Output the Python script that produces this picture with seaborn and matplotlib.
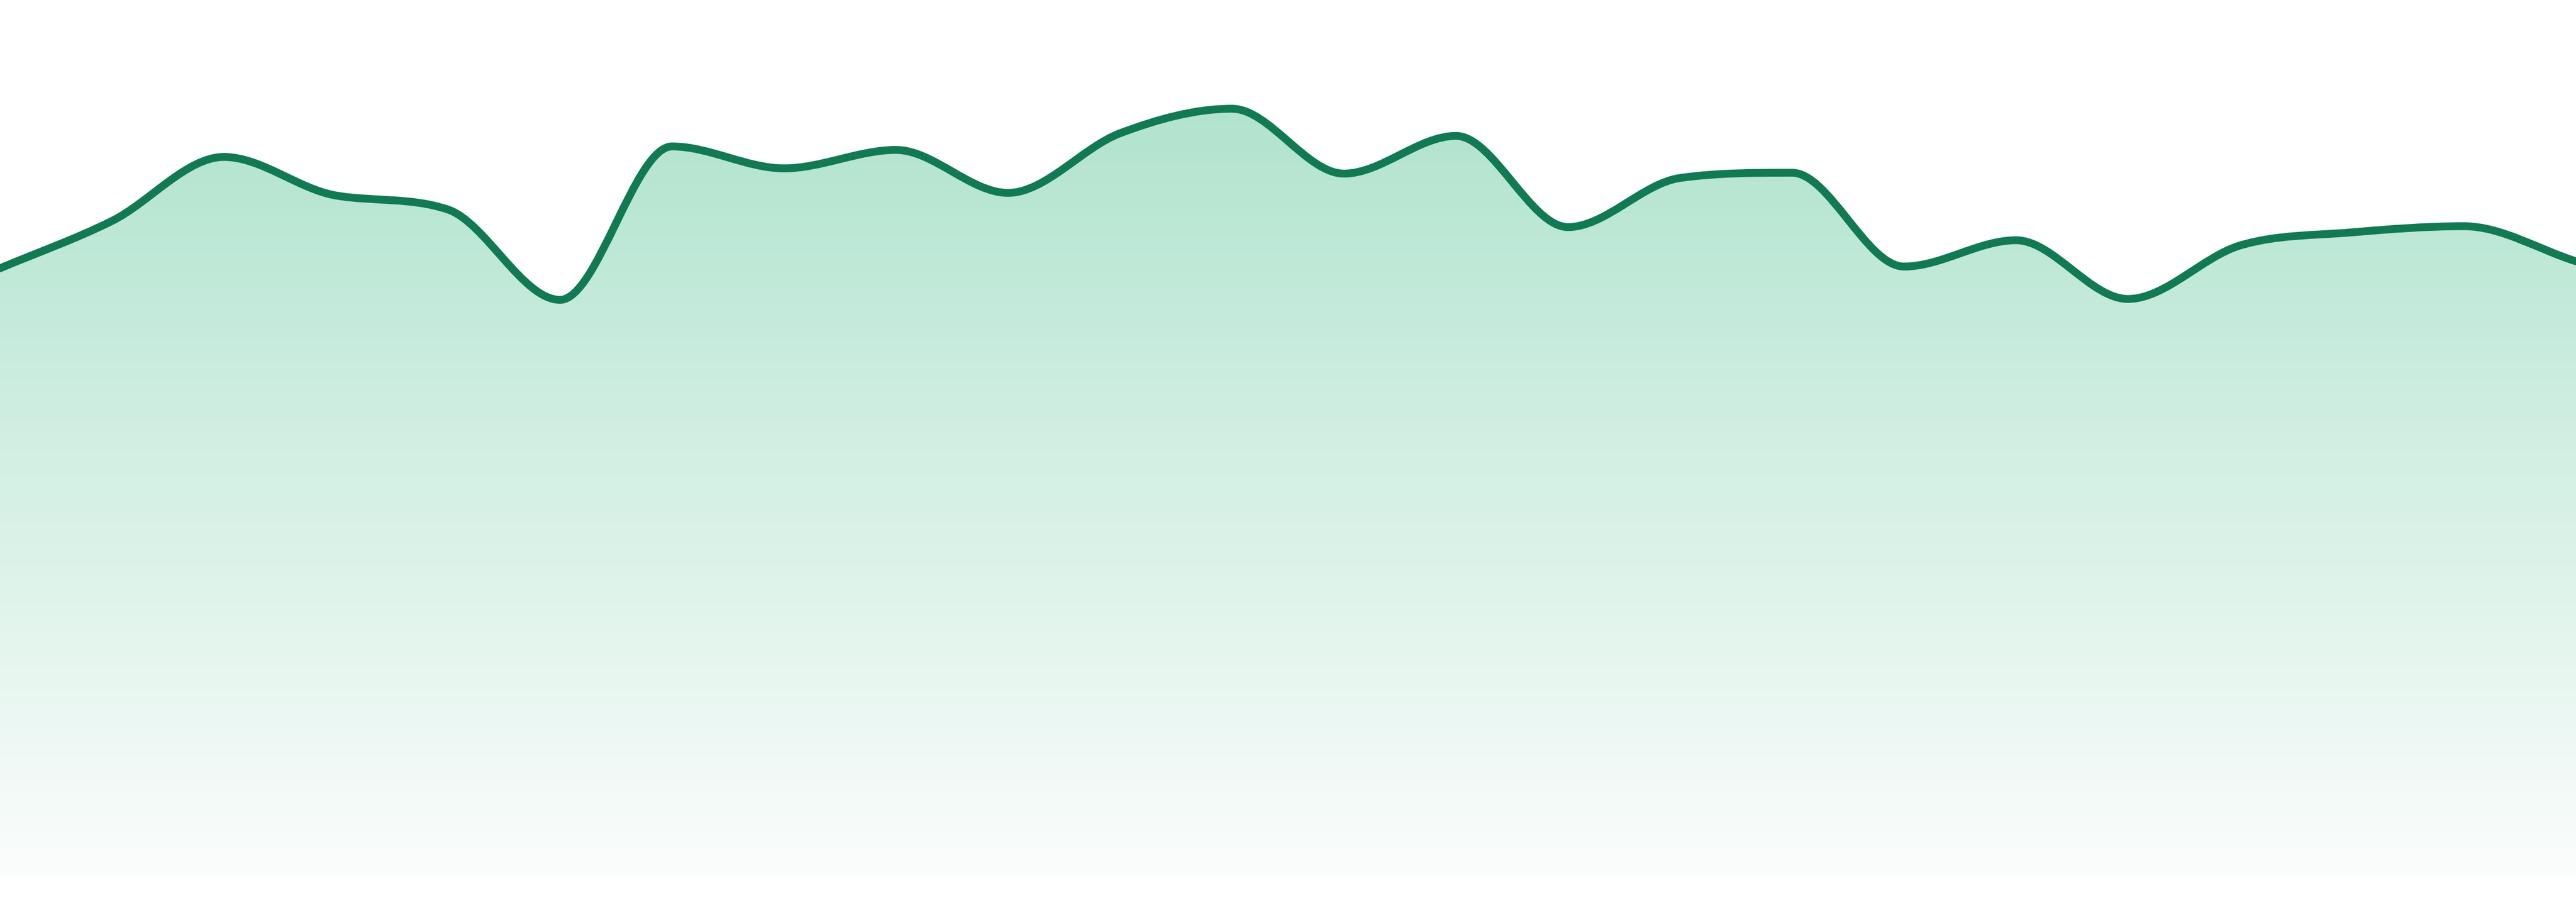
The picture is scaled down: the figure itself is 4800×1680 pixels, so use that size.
import numpy as np
import matplotlib
matplotlib.use("Agg")
import matplotlib.pyplot as plt
from matplotlib.path import Path
from matplotlib.patches import PathPatch
import seaborn as sns

# values (24 evenly spaced points, axis 0..100)
points = list(range(24))
values = [69.4, 74.8, 82.1, 77.7, 76.1, 65.8, 83.3, 80.8, 82.9, 78.0, 84.8, 87.6,
          80.2, 84.5, 74.1, 79.7, 80.3, 69.6, 72.6, 65.9, 72.0, 73.5, 74.2, 70.2]

line_color = "#117a52"
fill_top = "#a6e0c8"
fill_bottom = "#fbfdfc"

sns.set_theme(style="white")

x = np.array(points, dtype=float)
y = np.array(values, dtype=float)


# monotone cubic tangents (same idea as chart.js "monotone" mode)
def monotone_tangents(x, y):
    n = len(x)
    d = np.diff(y) / np.diff(x)
    m = np.zeros(n)
    m[0] = d[0]
    m[-1] = d[-1]
    for i in range(1, n - 1):
        if d[i - 1] * d[i] <= 0:
            m[i] = 0
        else:
            m[i] = (d[i - 1] + d[i]) / 2
    for i in range(n - 1):
        if d[i] == 0:
            m[i] = 0
            m[i + 1] = 0
            continue
        a = m[i] / d[i]
        b = m[i + 1] / d[i]
        t = a * a + b * b
        if t > 9:
            k = 3 / np.sqrt(t)
            m[i] = a * k * d[i]
            m[i + 1] = b * k * d[i]
    return m


m = monotone_tangents(x, y)

verts = [(x[0], y[0])]
codes = [Path.MOVETO]
for i in range(len(x) - 1):
    dx = (x[i + 1] - x[i]) / 3
    verts += [(x[i] + dx, y[i] + m[i] * dx),
              (x[i + 1] - dx, y[i + 1] - m[i + 1] * dx),
              (x[i + 1], y[i + 1])]
    codes += [Path.CURVE4] * 3

line_path = Path(verts, codes)
fill_path = Path(verts + [(x[-1], 0), (x[0], 0), (x[0], 0)],
                 codes + [Path.LINETO, Path.LINETO, Path.CLOSEPOLY])

fig = plt.figure(figsize=(48, 16.8), dpi=100, facecolor="white")
ax = fig.add_axes([0, 47 / 1680, 1, 1633 / 1680])
ax.set_xlim(x[0], x[-1])
ax.set_ylim(0, 100)
ax.axis("off")

# gradient fill under the curve
cmap = sns.blend_palette([fill_bottom, fill_top], as_cmap=True)
grad = np.linspace(0, 1, 256).reshape(-1, 1)
fill_patch = PathPatch(fill_path, facecolor="none", edgecolor="none")
ax.add_patch(fill_patch)
img = ax.imshow(grad, cmap=cmap, origin="lower", aspect="auto",
                extent=[x[0], x[-1], 0, 100], zorder=1)
img.set_clip_path(fill_patch)

ax.add_patch(PathPatch(line_path, facecolor="none", edgecolor=line_color,
                       linewidth=10.5, capstyle="round", joinstyle="round", zorder=3))

fig.savefig("out.png", dpi=100, facecolor="white")
